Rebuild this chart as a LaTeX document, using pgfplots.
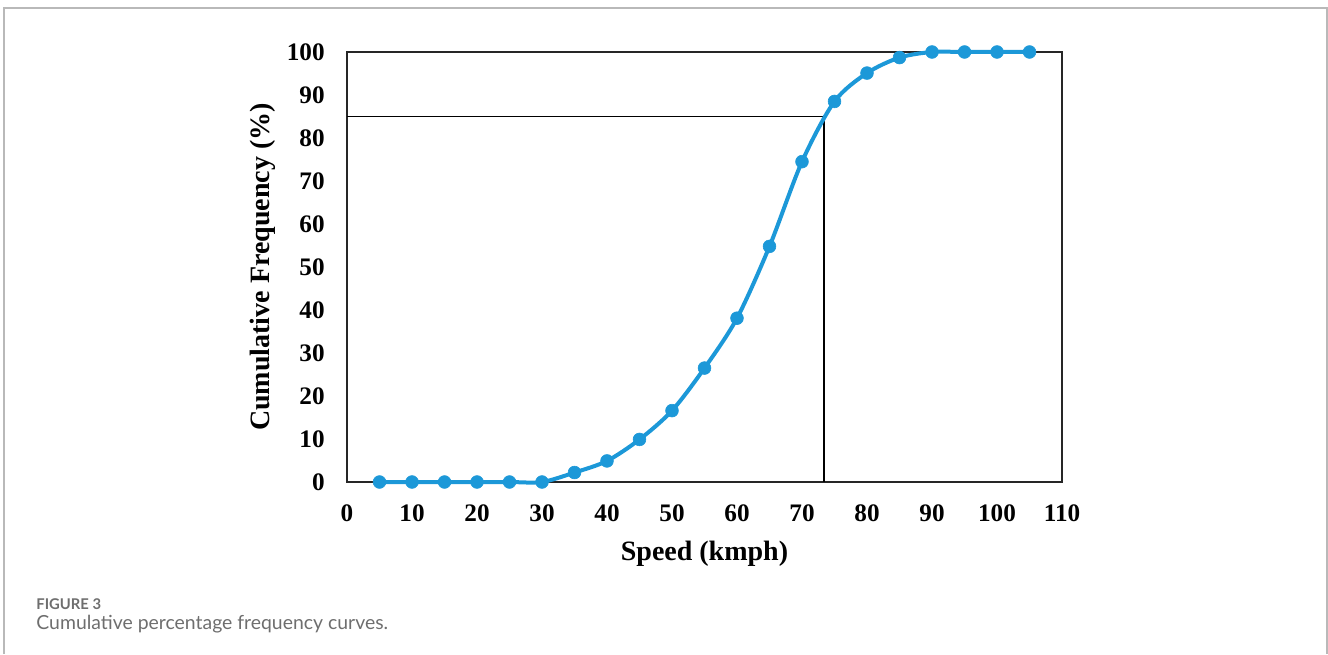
\documentclass[border=0pt]{standalone}
\usepackage{pgfplots}
\pgfplotsset{compat=1.18}
\usepackage{fontspec}
\setmainfont{Liberation Serif}
\newfontfamily\capfont{Lato}
\definecolor{ptblue}{RGB}{28,152,216}
\definecolor{capgray}{RGB}{110,110,110}
\definecolor{framegray}{RGB}{185,185,185}
\begin{document}
\begin{tikzpicture}[x=0.5pt,y=0.5pt]
\path[use as bounding box] (0,0) rectangle (1328,654);
\draw[framegray, line width=0.8pt] (4,0) -- (4,646) -- (1327,646) -- (1327,0);
\node[anchor=base west, inner sep=0pt, text=capgray, font=\capfont\fontsize{7.4}{8}\selectfont\bfseries] at (36,45) {FIGURE 3};
\node[anchor=base west, inner sep=0pt, text=capgray, font=\capfont\fontsize{9.7}{10}\selectfont] at (36,25) {Cumulative percentage frequency curves.};
\begin{axis}[
  at={(173.5pt,86pt)}, anchor=south west,
  scale only axis, width=357.5pt, height=215pt,
  xmin=0, xmax=110, ymin=0, ymax=100,
  xtick={0,10,...,110}, ytick={0,10,...,100},
  major tick length=0pt,
  axis line style={line width=1pt, draw=black!85},
  /pgf/number format/assume math mode=true,
  ticklabel style={font=\fontsize{12.6}{14}\selectfont\bfseries},
  xticklabel style={anchor=north, inner sep=0pt, yshift=-11pt},
  yticklabel style={anchor=east, inner sep=0pt, xshift=-11pt},
  every axis x label/.style={at={(axis description cs:0.5,-0.137)}, anchor=north, inner sep=0pt},
  every axis y label/.style={at={(axis description cs:-0.1175,0.5)}, anchor=center, rotate=90, inner sep=0pt},
  label style={font=\fontsize{14}{16}\selectfont\bfseries},
  xlabel={Speed (kmph)},
  ylabel={Cumulative Frequency (\%)},
  clip=false,
]
\addplot[black, line width=0.9pt] coordinates {(0,85) (73.4,85) (73.4,0)};
\addplot[smooth, tension=0.5, ptblue, line width=2pt, mark=*, mark size=3.2pt, mark options={solid, line width=0.3pt, draw=ptblue, fill=ptblue}] coordinates {
(5,0) (10,0) (15,0) (20,0) (25,0) (30,0) (35,2.2) (40,4.9) (45,9.9) (50,16.6) (55,26.5) (60,38.1) (65,54.8) (70,74.5) (75,88.5) (80,95.1) (85,98.7) (90,100) (95,100) (100,100) (105,100)
};
\end{axis}
\end{tikzpicture}
\end{document}
